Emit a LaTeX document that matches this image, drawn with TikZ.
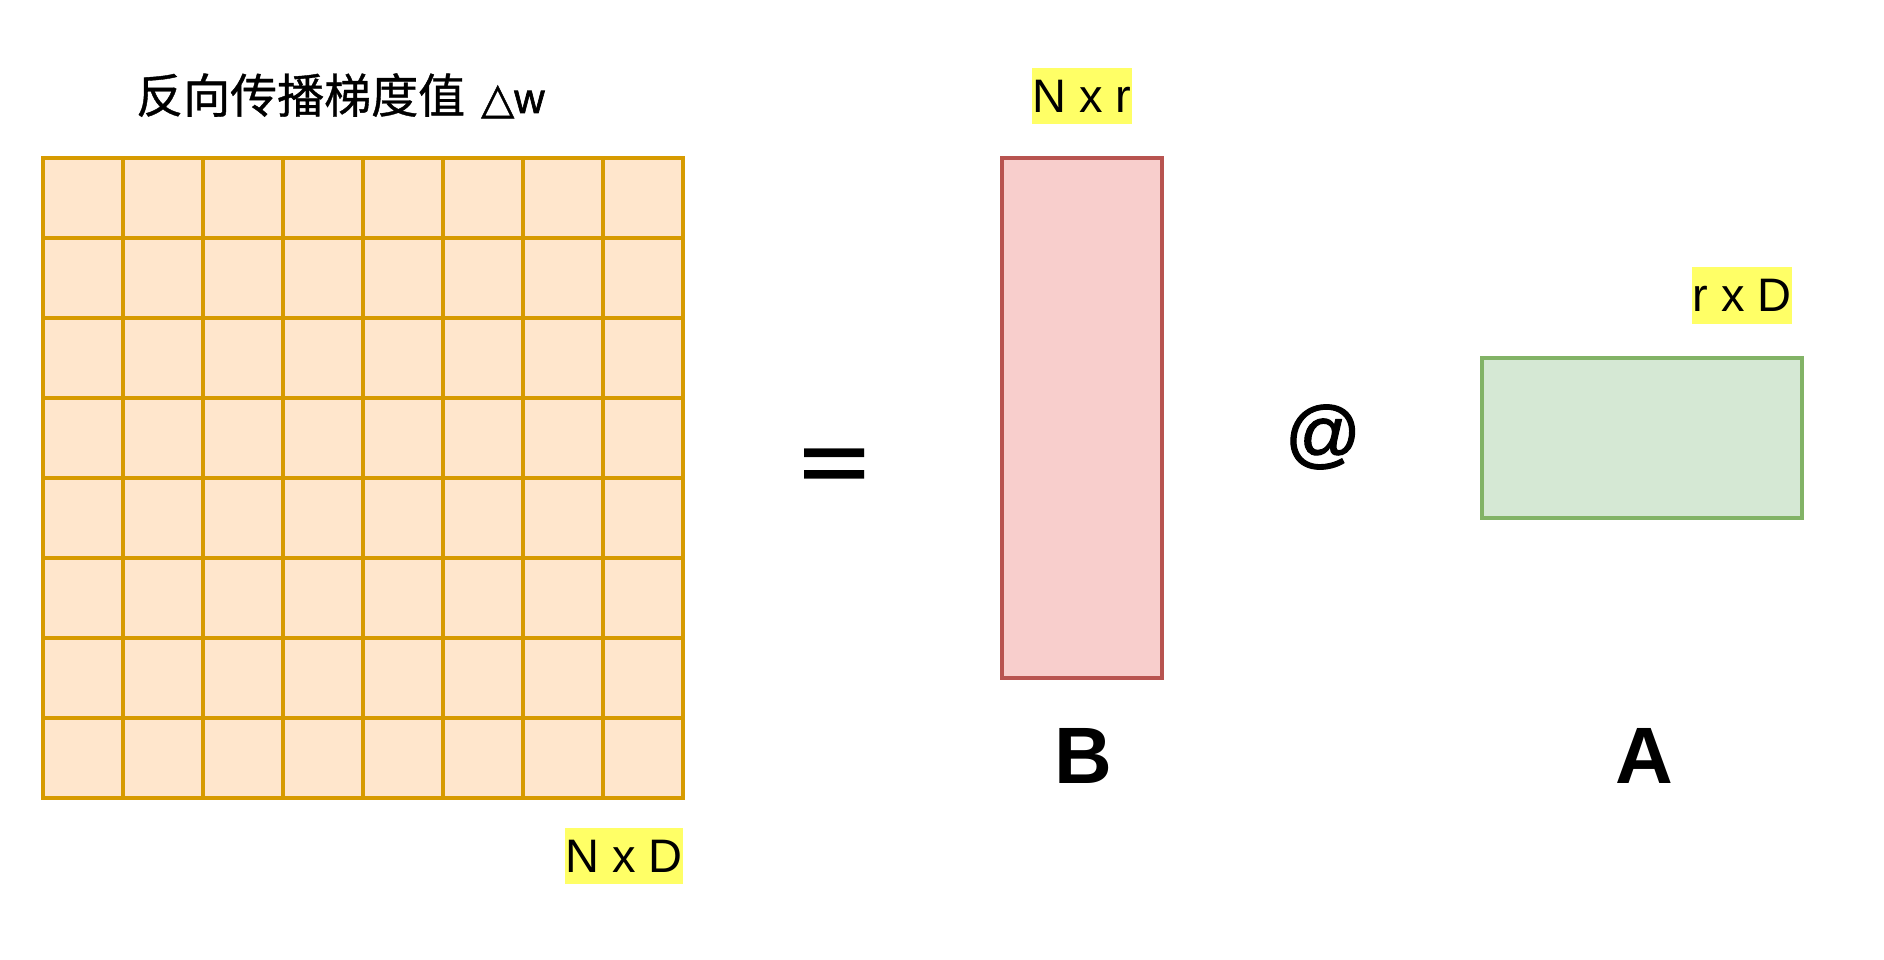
\documentclass[tikz,border=0pt]{standalone}
\usepackage{graphicx}
\usepackage{fontspec}
\setmainfont{Liberation Sans}
\newfontfamily\cjkfont{Noto Sans CJK SC}[FakeBold=0.8]
\newfontfamily\symfont{DejaVu Sans}[FakeBold=1.2]
\newfontfamily\heavyfont{Liberation Sans}[FakeBold=1.5]
\definecolor{gridstroke}{HTML}{D79B00}
\definecolor{gridfill}{HTML}{FFE6CC}
\definecolor{bstroke}{HTML}{B85450}
\definecolor{bfill}{HTML}{F8CECC}
\definecolor{astroke}{HTML}{82B366}
\definecolor{afill}{HTML}{D5E8D4}
\definecolor{labelyellow}{HTML}{FFFF66}
\begin{document}
\begin{tikzpicture}[x=1pt,y=-1pt,
  gridline/.style={draw=gridstroke, line width=3.6pt},
  dimlabel/.style={fill=labelyellow, inner sep=0pt, text height=44.5pt, text depth=11.9pt,
                   font=\fontsize{47}{56}\selectfont},
  bigletter/.style={inner sep=0pt, anchor=base, font=\fontsize{80}{96}\selectfont\bfseries},
  matbox/.style={rectangle, inner sep=0pt, line width=4pt},
]
\useasboundingbox[fill=white] (0,0) rectangle (1884,960);

% gradient matrix N x D (8 x 8 grid)
\filldraw[gridline, fill=gridfill] (43,158) rectangle (683,798);
\foreach \i in {1,...,7} {
  \draw[gridline] (43+80*\i,158) -- (43+80*\i,798);
  \draw[gridline] (43,158+80*\i) -- (683,158+80*\i);
}

% title
\node[anchor=base west, inner sep=0pt, font=\fontsize{47}{56}\selectfont] (title) at (136,113)
  {\cjkfont 反向传播梯度值\hspace{16pt}{\symfont\fontsize{43}{43}\selectfont △}{\heavyfont\fontsize{42}{42}\selectfont w}};

% dimension labels
\node[dimlabel] (ndlabel) at (624,856) {N x D};
\node[dimlabel] (nrlabel) at (1082,96) {N x r};
\node[dimlabel] (rdlabel) at (1742,295.5) {r x D};

% equals sign
\node[inner sep=0pt, font=\fontsize{80}{80}\selectfont\bfseries] (eq) at (835,470) {\scalebox{1.5}[1]{=}};

% matrix B
\node[matbox, draw=bstroke, fill=bfill, minimum width=160pt, minimum height=520pt] (B) at (1082,418) {};

% @ operator
\node[inner sep=0pt, font=\heavyfont\fontsize{75}{80}\selectfont] (at) at (1323,437) {@};

% matrix A
\node[matbox, draw=astroke, fill=afill, minimum width=320pt, minimum height=160pt] (A) at (1642,438) {};

% letters
\node[bigletter] (Bname) at (1083,783) {B};
\node[bigletter] (Aname) at (1644,783) {A};
\end{tikzpicture}
\end{document}
